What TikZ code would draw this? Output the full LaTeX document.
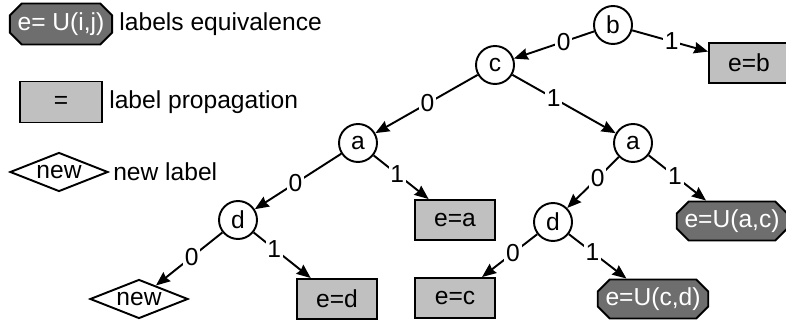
\documentclass[tikz,border=0pt]{standalone}
\usepackage{fontspec}
\setmainfont{Liberation Sans}
\usetikzlibrary{positioning, arrows.meta, shapes.geometric, shapes.misc}

\definecolor{propgray}{HTML}{C0C0C0}
\definecolor{equivgray}{HTML}{6E6E6E}

\begin{document}
\begin{tikzpicture}[
  x=0.02cm, y=-0.02cm,
  font=\fontsize{14}{17}\selectfont,
  % node styles
  state/.style={draw, circle, line width=1.1pt, minimum size=0.76cm, inner sep=0pt},
  propbox/.style={draw, rectangle, line width=1.1pt, fill=propgray, minimum width=1.6cm, minimum height=0.8cm, inner sep=1pt},
  equivbox/.style={draw, chamfered rectangle, chamfered rectangle xsep=0.12cm, chamfered rectangle ysep=0.12cm, line width=1.1pt, fill=equivgray, text=white, minimum width=2cm, minimum height=0.78cm, inner xsep=1pt, inner ysep=1pt},
  newbox/.style={draw, diamond, aspect=2.5, line width=1.1pt, fill=white, minimum width=1.96cm, minimum height=0.78cm, inner sep=0pt},
  legtext/.style={inner sep=0pt},
  % edge styles
  edge/.style={draw, line width=1.1pt, -{Stealth[length=8pt, width=6.5pt, inset=0.8pt]}},
  bit/.style={fill=white, inner sep=1pt}
]
  \useasboundingbox (0,0) rectangle (786,327);

  % legend
  \node[equivbox, minimum width=2.04cm, minimum height=0.82cm] (legeq) at (61,24) {e= U(i,j)};
  \node[legtext, right=0.12cm of legeq] (legeqtext) {labels equivalence};
  \node[propbox, minimum width=1.64cm, minimum height=0.82cm] (legprop) at (61,102) {=};
  \node[legtext, right=0.12cm of legprop] (legproptext) {label propagation};
  \node[newbox] (legnew) at (59,172) {new};
  \node[legtext, right=0.08cm of legnew] (legnewtext) {new label};

  % tree nodes
  \node[state] (b) at (613,25) {b};
  \node[state] (c) at (495,65) {c};
  \node[state] (al) at (358,143) {a};
  \node[state] (ar) at (633,143) {a};
  \node[state] (dl) at (238,220) {d};
  \node[state] (dr) at (553,222) {d};

  % leaves
  \node[propbox] (eb) at (749,63) {e=b};
  \node[propbox] (ea) at (455,220) {e=a};
  \node[equivbox] (eac) at (732,221) {e=U(a,c)};
  \node[newbox] (new) at (139,299) {new};
  \node[propbox] (ed) at (337,299) {e=d};
  \node[propbox] (ec) at (455,298) {e=c};
  \node[equivbox] (ecd) at (653,299) {e=U(c,d)};

  % edges
  \draw[edge] (b) -- node[bit, pos=0.38] {0} (c);
  \draw[edge] (b) -- node[bit, pos=0.52] {1} (eb);
  \draw[edge] (c) -- node[bit, pos=0.49] {0} (al);
  \draw[edge] (c) -- node[bit, pos=0.40] {1} (ar);
  \draw[edge] (al) -- node[bit, pos=0.53] {0} (dl);
  \draw[edge] (al) -- node[bit, pos=0.43] {1} (ea);
  \draw[edge] (ar) -- node[bit, pos=0.41] {0} (dr);
  \draw[edge] (ar) -- node[bit, pos=0.46] {1} (eac);
  \draw[edge] (dl) -- node[bit, pos=0.46] {0} (new);
  \draw[edge] (dl) -- node[bit, pos=0.36] {1} (ed);
  \draw[edge] (dr) -- node[bit, pos=0.44] {0} (ec);
  \draw[edge] (dr) -- node[bit, pos=0.41] {1} (ecd);
\end{tikzpicture}
\end{document}
